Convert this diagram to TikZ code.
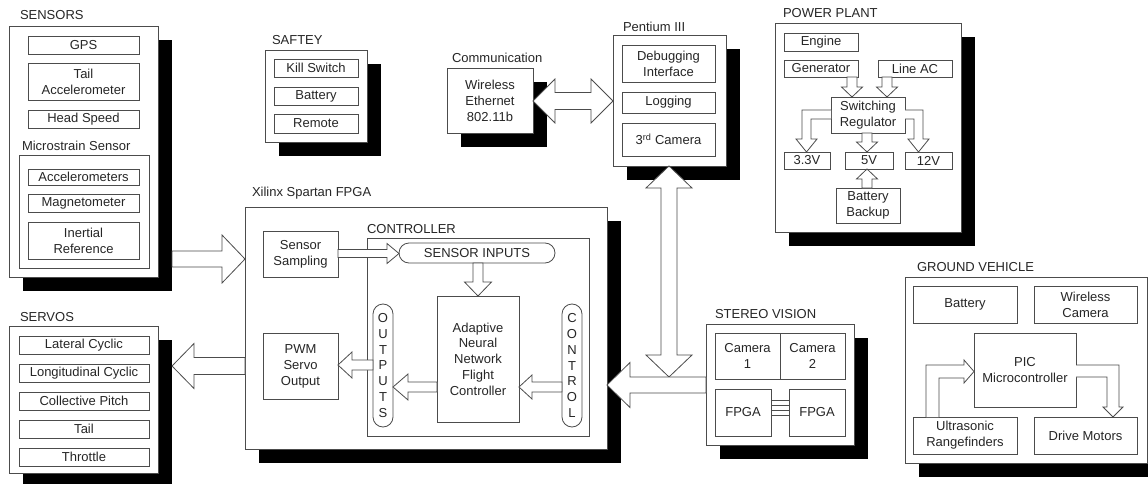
\documentclass[tikz,border=0pt]{standalone}
\usepackage{fontspec}
\setmainfont{Liberation Sans}
\usetikzlibrary{calc,shadows}
\tikzset{
 box/.style={draw=black!70, line width=0.8pt, fill=white, inner sep=0pt, outer sep=0pt, align=center, text=black!85, font=\fontsize{13}{16}\selectfont},
 grp/.style={drop shadow={shadow xshift=14pt, shadow yshift=-14pt, fill=black, opacity=1}},
 lbl/.style={anchor=base west, inner sep=0pt, outer sep=0pt, text=black!85, font=\fontsize{13}{16}\selectfont},
 blk/.style={draw=black!70, line width=0.8pt, fill=white, line join=miter},
 vtxt/.style={rounded corners=10pt, font=\fontsize{13}{15.8}\selectfont},
 link/.style={draw=black!70, line width=0.8pt},
}
% #1 options, #2 name, #3 x1, #4 y1, #5 x2, #6 y2, #7 text
\newcommand\bx[7][]{\node[box,#1,minimum width={#5-#3},minimum height={#6-#4}] (#2) at ({(#3+#5)/2},{(#4+#6)/2}) {#7};}
% single block arrow: #1 tail, #2 tip, #3 shaft half width, #4 head half width, #5 head length
\newcommand\sarrow[5]{%
 \draw[blk] let \p1=#1, \p2=#2, \n1={atan2(\y2-\y1,\x2-\x1)}, \n2={veclen(\x2-\x1,\y2-\y1)} in
 [shift={(\p1)},rotate=\n1] ({0pt},{#3*1pt}) -- ({\n2-#5*1pt},{#3*1pt}) -- ({\n2-#5*1pt},{#4*1pt}) -- ({\n2+0pt},{0pt}) -- ({\n2-#5*1pt},{-#4*1pt}) -- ({\n2-#5*1pt},{-#3*1pt}) -- ({0pt},{-#3*1pt}) -- cycle;}
% double block arrow
\newcommand\darrow[5]{%
 \draw[blk] let \p1=#1, \p2=#2, \n1={atan2(\y2-\y1,\x2-\x1)}, \n2={veclen(\x2-\x1,\y2-\y1)} in
 [shift={(\p1)},rotate=\n1] ({0pt},{0pt}) -- ({#5*1pt},{#4*1pt}) -- ({#5*1pt},{#3*1pt}) -- ({\n2-#5*1pt},{#3*1pt}) -- ({\n2-#5*1pt},{#4*1pt}) -- ({\n2+0pt},{0pt}) -- ({\n2-#5*1pt},{-#4*1pt}) -- ({\n2-#5*1pt},{-#3*1pt}) -- ({#5*1pt},{-#3*1pt}) -- ({#5*1pt},{-#4*1pt}) -- cycle;}
\begin{document}
\begin{tikzpicture}[x=1pt,y=-1pt]
\useasboundingbox[fill=white] (0,0) rectangle (1148,484);

% SENSORS
\node[lbl] (lsens) at (20,20) {SENSORS};
\bx[grp]{sens}{9}{26}{158}{277}{}
\bx{gps}{28}{36}{139}{54}{GPS}
\bx{tacc}{28}{63}{139}{100}{Tail\\Accelerometer}
\bx{hspd}{28}{110}{139}{128}{Head Speed}
\node[lbl] (lmicro) at (22,150.5) {Microstrain Sensor};
\bx{micro}{19}{155}{149}{268}{}
\bx{accs}{28}{169}{139}{185}{Accelerometers}
\bx{magn}{28}{194}{139}{212}{Magnetometer}
\bx{inert}{28}{222}{139}{259}{Inertial\\Reference}

% SERVOS
\node[lbl] (lserv) at (20,321.5) {SERVOS};
\bx[grp]{serv}{9}{326}{158}{473}{}
\bx{latc}{19}{336}{149}{354}{Lateral Cyclic}
\bx{lonc}{19}{364}{149}{382}{Longitudinal Cyclic}
\bx{colp}{19}{392}{149}{410}{Collective Pitch}
\bx{tail}{19}{420}{149}{438}{Tail}
\bx{thr}{19}{448}{149}{466}{Throttle}

% SAFETY
\node[lbl] (lsafe) at (272,44.5) {SAFTEY};
\bx[grp]{safe}{265}{50}{367}{142}{}
\bx{kill}{274}{59}{358}{77}{Kill Switch}
\bx{batt}{274}{87}{358}{105}{Battery}
\bx{remote}{274}{114}{358}{133}{Remote}

% COMMUNICATION
\node[lbl] (lcomm) at (452,62.5) {Communication};
\bx[grp]{wifi}{447}{68}{533}{133}{Wireless\\Ethernet\\802.11b}

% PENTIUM
\node[lbl] (lpent) at (623,31.5) {Pentium III};
\bx[grp]{pent}{613}{35}{726}{166}{}
\bx{debug}{622}{45}{715}{82}{Debugging\\Interface}
\bx{logg}{622}{92}{715}{113}{Logging}
\bx{cam3}{622}{123}{715}{156}{3\textsuperscript{rd} Camera}

% POWER PLANT
\node[lbl] (lpow) at (783,17.5) {POWER PLANT};
\bx[grp]{power}{775}{23}{961}{232}{}
\bx{engine}{784}{33}{858}{51}{Engine}
\bx{gen}{784}{60}{858}{77}{Generator}
\bx{lineac}{878}{60}{952}{77}{Line AC}
\bx{swreg}{831}{97}{905}{133}{Switching\\Regulator}
\bx{v33}{784}{152}{830}{169}{3.3V}
\bx{v5}{845}{152}{893}{169}{5V}
\bx{v12}{905}{152}{952}{169}{12V}
\bx{bback}{836}{188}{900}{223}{Battery\\Backup}

% FPGA
\node[lbl] (lfpga) at (252,196) {Xilinx Spartan FPGA};
\bx[grp]{fpga}{245}{207}{607}{449}{}
\bx{ssamp}{263}{231}{338}{277}{Sensor\\Sampling}
\node[lbl] (lctrl) at (367,233.5) {CONTROLLER};
\bx{ctrl}{367}{238}{589}{436}{}
\bx[rounded corners=10pt]{sin}{399}{243}{555}{263}{SENSOR INPUTS}
\bx[font=\fontsize{13}{15.7}\selectfont]{ann}{437}{296}{519}{422}{Adaptive\\Neural\\Network\\Flight\\Controller}
\bx[vtxt]{outs}{373}{304}{393}{427}{O\\U\\T\\P\\U\\T\\S}
\bx[vtxt]{ctl}{562}{304}{582}{427}{C\\O\\N\\T\\R\\O\\L}
\bx{pwm}{263}{333}{338}{399}{PWM\\Servo\\Output}

% STEREO VISION
\node[lbl] (lster) at (715,318.5) {STEREO VISION};
\bx[grp]{stereo}{706}{324}{854}{445}{}
\bx{cam1}{715}{333}{780}{379}{Camera\\1}
\bx{cam2}{780}{333}{845}{379}{Camera\\2}
\bx{fpgaA}{715}{389}{771}{436}{FPGA}
\bx{fpgaB}{789}{389}{845}{436}{FPGA}
\foreach \yy in {400,405,410,415} \draw[link] (fpgaA.east |- 0,\yy) -- (fpgaB.west |- 0,\yy);

% GROUND VEHICLE
\node[lbl] (lgv) at (917,271.5) {GROUND VEHICLE};
\bx[grp]{gv}{905}{277}{1147}{463}{}
\bx{gbatt}{913}{286}{1017}{323}{Battery}
\bx{wcam}{1034}{286}{1137}{323}{Wireless\\Camera}
\bx{pic}{974}{333}{1076}{407}{PIC\\Microcontroller}
\bx{usr}{913}{417}{1017}{454}{Ultrasonic\\Rangefinders}
\bx{dmot}{1034}{417}{1137}{454}{Drive Motors}

% ---- block arrows ----
\sarrow{(172,259)}{(fpga.west |- 0,259)}{8}{24}{23}
\sarrow{(fpga.west |- 0,366)}{(172,366)}{8.5}{22.5}{22}
\darrow{(wifi.east |- 0,101)}{(pent.west |- 0,101)}{8.5}{22}{22}
\darrow{(669,0 |- pent.south)}{(669,377)}{8}{23}{22}
\sarrow{(stereo.west |- 0,385)}{(fpga.east |- 0,385)}{8}{22.5}{23}
\sarrow{(ssamp.east |- 0,253.5)}{(sin.west |- 0,253.5)}{4}{10}{12}
\sarrow{(478,0 |- sin.south)}{(478,0 |- ann.north)}{5}{13.5}{14}
\sarrow{(outs.west |- 0,365)}{(pwm.east |- 0,365)}{5}{13}{14}
\sarrow{(ann.west |- 0,387)}{(outs.east |- 0,387)}{5}{13}{15}
\sarrow{(ctl.west |- 0,387)}{(ann.east |- 0,387)}{5}{12}{13}
\sarrow{(852,0 |- gen.south)}{(852,0 |- swreg.north)}{5}{10.5}{10}
\sarrow{(887,0 |- lineac.south)}{(887,0 |- swreg.north)}{5}{10.5}{10}
\sarrow{(867,0 |- swreg.south)}{(867,0 |- v5.north)}{5}{10.5}{10}
\sarrow{(867,0 |- bback.north)}{(867,0 |- v5.south)}{5}{10.5}{10}
% bent arrows
\draw[blk] (swreg.west |- 0,110) -- (802,110) -- (802,139) -- (796,139) -- (806.5,0 |- v33.north) -- (817,139) -- (811,139) -- (811,119) -- (swreg.west |- 0,119);
\draw[blk] (swreg.east |- 0,110) -- (923,110) -- (923,139) -- (929,139) -- (918.5,0 |- v12.north) -- (908,139) -- (914,139) -- (914,119) -- (swreg.east |- 0,119);
\draw[blk] (926,0 |- usr.north) -- (926,365) -- (964,365) -- (964,360) -- (pic.west |- 0,371.5) -- (964,383) -- (964,378) -- (939,378) -- (939,0 |- usr.north);
\draw[blk] (pic.east |- 0,365) -- (1119,365) -- (1119,407) -- (1123,407) -- (1113,0 |- dmot.north) -- (1103,407) -- (1107,407) -- (1107,377) -- (pic.east |- 0,377);
\end{tikzpicture}
\end{document}
